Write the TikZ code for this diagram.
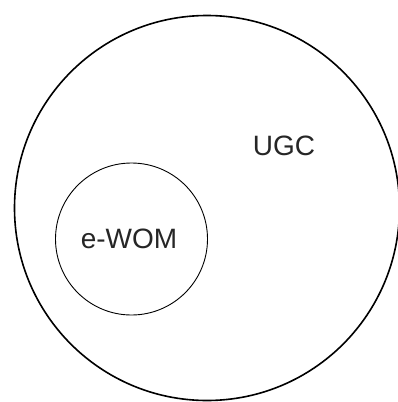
\documentclass[tikz,border=0pt]{standalone}
\usepackage{fontspec}
\setmainfont{Liberation Sans}
\usepackage{tikz}
\usetikzlibrary{positioning}

\begin{document}
\begin{tikzpicture}[
    x=1pt, y=-1pt,
    every node/.style={font=\fontsize{28}{33}\selectfont, text=black!85},
    bigring/.style={draw, circle, line width=1.6pt, minimum size=385pt, inner sep=0pt},
    smallring/.style={draw, circle, line width=0.9pt, minimum size=152pt, inner sep=0pt},
]
\useasboundingbox (0,0) rectangle (398,402);
\node[bigring] (ugc) at (207,208) {};
\node (ugclabel) at (284,146) {UGC};
\node[smallring] (ewom) at (131.5,239) {};
\node (ewomlabel) at (129,239) {e-WOM};
\end{tikzpicture}
\end{document}
